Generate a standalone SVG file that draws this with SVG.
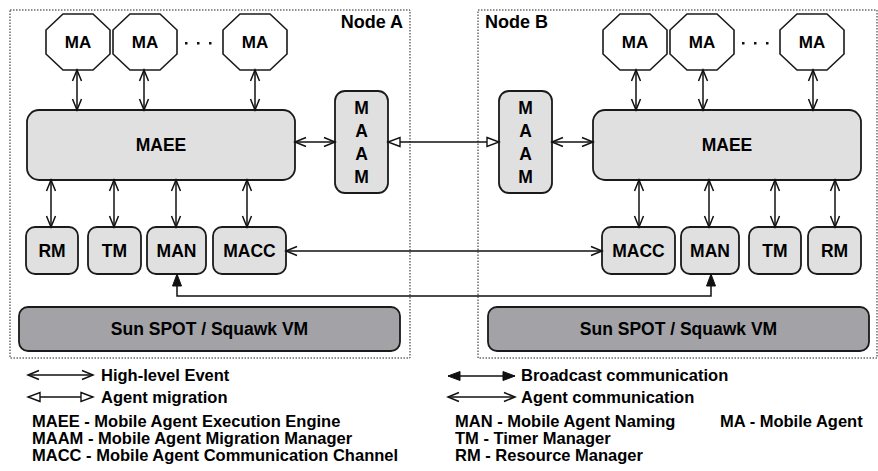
<svg xmlns="http://www.w3.org/2000/svg" xmlns:xlink="http://www.w3.org/1999/xlink" width="878" height="471" viewBox="0 0 878 471">
<style>
text{font-family:"Liberation Sans",Arial,Helvetica,sans-serif;font-weight:bold;fill:#000}
.frame{fill:none;stroke:#222;stroke-width:1;stroke-dasharray:1.5 1.5}
.box{fill:#e0e0e0;stroke:#1a1a1a;stroke-width:1.8}
.vm{fill:#a3a3a7;stroke:#1a1a1a;stroke-width:1.8}
.oct{fill:#fff;stroke:#1a1a1a;stroke-width:1.6}
.lbl{font-size:17.5px;text-anchor:middle}
.ma{font-size:17px;text-anchor:middle}
.title{font-size:18px}
.leg{font-size:16.5px}
.ln{fill:none;stroke:#111;stroke-width:1.5}
.ev{marker-start:url(#ev);marker-end:url(#ev)}
.mig{marker-start:url(#mig);marker-end:url(#mig)}
.bc{marker-start:url(#bc);marker-end:url(#bc)}
</style>
<defs>
<marker id="ev" markerUnits="userSpaceOnUse" markerWidth="14" markerHeight="12" viewBox="0 0 14 12" refX="12" refY="6" orient="auto-start-reverse">
<path d="M1,1.5 L12,6 L1,10.5" fill="none" stroke="#111" stroke-width="1.5"/>
</marker>
<marker id="mig" markerUnits="userSpaceOnUse" markerWidth="15" markerHeight="12" viewBox="0 0 15 12" refX="13" refY="6" orient="auto-start-reverse">
<path d="M1,1.5 L13,6 L1,10.5 Z" fill="#fff" stroke="#111" stroke-width="1.4"/>
</marker>
<marker id="bc" markerUnits="userSpaceOnUse" markerWidth="15" markerHeight="12" viewBox="0 0 15 12" refX="13" refY="6" orient="auto-start-reverse">
<path d="M1,1.5 L13,6 L1,10.5 Z" fill="#111" stroke="#111" stroke-width="1"/>
</marker>
<polygon id="octa" class="oct" points="17,0 47,0 64,16 64,40 47,56 17,56 0,40 0,16"/>
</defs>

<g id="nodeA">
<rect class="frame" x="10" y="10" width="400" height="348"/>
<text class="title" x="403" y="28" text-anchor="end">Node A</text>
</g>
<g id="nodeB">
<rect class="frame" x="478" y="10" width="399" height="348"/>
<text class="title" x="485" y="28">Node B</text>
</g>

<g id="A-MA1"><use xlink:href="#octa" x="46" y="14"/><text class="ma" x="78" y="48">MA</text></g>
<g id="A-MA2"><use xlink:href="#octa" x="113" y="14"/><text class="ma" x="145" y="48">MA</text></g>
<g id="A-MA3"><use xlink:href="#octa" x="223" y="14"/><text class="ma" x="255" y="48">MA</text></g>
<g id="A-dots" fill="#111"><rect x="185" y="42" width="2.5" height="2.5"/><rect x="197" y="42" width="2.5" height="2.5"/><rect x="209" y="42" width="2.5" height="2.5"/></g>

<g id="B-MA1"><use xlink:href="#octa" x="603" y="14"/><text class="ma" x="635" y="48">MA</text></g>
<g id="B-MA2"><use xlink:href="#octa" x="670" y="14"/><text class="ma" x="702" y="48">MA</text></g>
<g id="B-MA3"><use xlink:href="#octa" x="780" y="14"/><text class="ma" x="812" y="48">MA</text></g>
<g id="B-dots" fill="#111"><rect x="742" y="42" width="2.5" height="2.5"/><rect x="754" y="42" width="2.5" height="2.5"/><rect x="766" y="42" width="2.5" height="2.5"/></g>

<g id="A-MAEE"><rect class="box" x="27" y="110" width="268" height="70" rx="12"/><text class="lbl" x="161" y="151" font-size="18">MAEE</text></g>
<g id="B-MAEE"><rect class="box" x="593" y="110" width="268" height="70" rx="12"/><text class="lbl" x="727" y="151" font-size="18">MAEE</text></g>

<g id="A-MAAM"><rect class="box" x="335" y="91" width="53" height="102" rx="10"/>
<text class="lbl" x="361.5" y="114">M</text><text class="lbl" x="361.5" y="137">A</text><text class="lbl" x="361.5" y="160">A</text><text class="lbl" x="361.5" y="183">M</text></g>
<g id="B-MAAM"><rect class="box" x="499" y="91" width="53" height="102" rx="10"/>
<text class="lbl" x="525.5" y="114">M</text><text class="lbl" x="525.5" y="137">A</text><text class="lbl" x="525.5" y="160">A</text><text class="lbl" x="525.5" y="183">M</text></g>

<g id="A-RM"><rect class="box" x="26" y="227" width="52" height="47" rx="9"/><text class="lbl" x="52" y="257">RM</text></g>
<g id="A-TM"><rect class="box" x="88" y="227" width="53" height="47" rx="9"/><text class="lbl" x="114.5" y="257">TM</text></g>
<g id="A-MAN"><rect class="box" x="147" y="227" width="59" height="47" rx="9"/><text class="lbl" x="176.5" y="257">MAN</text></g>
<g id="A-MACC"><rect class="box" x="213" y="227" width="73" height="47" rx="9"/><text class="lbl" x="249.5" y="257">MACC</text></g>

<g id="B-MACC"><rect class="box" x="602" y="227" width="73" height="47" rx="9"/><text class="lbl" x="638.5" y="257">MACC</text></g>
<g id="B-MAN"><rect class="box" x="681" y="227" width="58" height="47" rx="9"/><text class="lbl" x="710" y="257">MAN</text></g>
<g id="B-TM"><rect class="box" x="749" y="227" width="52" height="47" rx="9"/><text class="lbl" x="775" y="257">TM</text></g>
<g id="B-RM"><rect class="box" x="808" y="227" width="53" height="47" rx="9"/><text class="lbl" x="834.5" y="257">RM</text></g>

<g id="A-VM"><rect class="vm" x="19" y="307" width="381" height="44" rx="9"/><text class="lbl" x="209.5" y="335" font-size="18">Sun SPOT / Squawk VM</text></g>
<g id="B-VM"><rect class="vm" x="488" y="307" width="381" height="44" rx="9"/><text class="lbl" x="678.5" y="335" font-size="18">Sun SPOT / Squawk VM</text></g>

<g id="connectors">
<line class="ln ev" x1="77" y1="70" x2="77" y2="110"/>
<line class="ln ev" x1="144" y1="70" x2="144" y2="110"/>
<line class="ln ev" x1="255" y1="70" x2="255" y2="110"/>
<line class="ln ev" x1="636" y1="70" x2="636" y2="110"/>
<line class="ln ev" x1="703" y1="70" x2="703" y2="110"/>
<line class="ln ev" x1="813" y1="70" x2="813" y2="110"/>
<line class="ln ev" x1="295" y1="142" x2="335" y2="142"/>
<line class="ln ev" x1="552" y1="142" x2="593" y2="142"/>
<line class="ln mig" x1="388" y1="142" x2="499" y2="142"/>
<line class="ln ev" x1="51" y1="180" x2="51" y2="227"/>
<line class="ln ev" x1="114" y1="180" x2="114" y2="227"/>
<line class="ln ev" x1="176" y1="180" x2="176" y2="227"/>
<line class="ln ev" x1="247" y1="180" x2="247" y2="227"/>
<line class="ln ev" x1="639" y1="180" x2="639" y2="227"/>
<line class="ln ev" x1="709" y1="180" x2="709" y2="227"/>
<line class="ln ev" x1="775" y1="180" x2="775" y2="227"/>
<line class="ln ev" x1="835" y1="180" x2="835" y2="227"/>
<line class="ln ev" x1="286" y1="251" x2="602" y2="251"/>
<path class="ln bc" d="M177,274 V296 H711 V274"/>
</g>

<g id="legend">
<line class="ln ev" x1="28" y1="375" x2="93" y2="375"/>
<text class="leg" x="101" y="381">High-level Event</text>
<line class="ln mig" x1="28" y1="397" x2="93" y2="397"/>
<text class="leg" x="101" y="403">Agent migration</text>
<text class="leg" x="32" y="427">MAEE - Mobile Agent Execution Engine</text>
<text class="leg" x="32" y="444">MAAM - Mobile Agent Migration Manager</text>
<text class="leg" x="32" y="461">MACC - Mobile Agent Communication Channel</text>
<line class="ln bc" x1="448" y1="376" x2="515" y2="376"/>
<text class="leg" x="521" y="381">Broadcast communication</text>
<line class="ln ev" x1="448" y1="397" x2="515" y2="397"/>
<text class="leg" x="521" y="403">Agent communication</text>
<text class="leg" x="455" y="427">MAN - Mobile Agent Naming</text>
<text class="leg" x="720" y="427">MA - Mobile Agent</text>
<text class="leg" x="455" y="444">TM - Timer Manager</text>
<text class="leg" x="455" y="461">RM - Resource Manager</text>
</g>
</svg>
